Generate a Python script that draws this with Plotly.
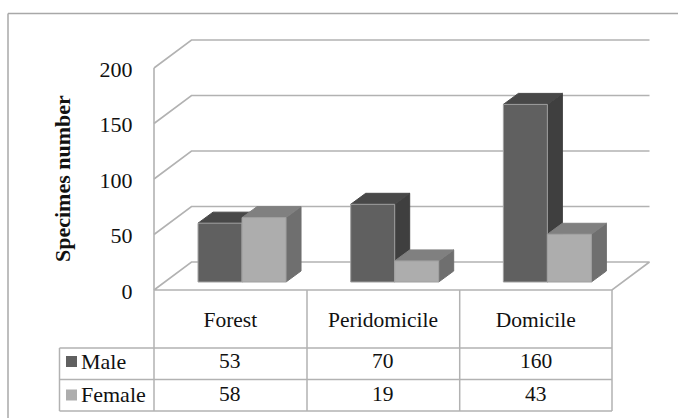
import plotly.graph_objects as go

categories = ["Forest", "Peridomicile", "Domicile"]
male = [53, 70, 160]
female = [58, 19, 43]
y_ticks = [0, 50, 100, 150, 200]
series_names = ["Male", "Female"]

W, H = 678, 418
X0, X1 = 154.0, 612.0      # front floor edge, px
Y0, Y200 = 290.0, 68.0     # front wall, px
SX = (X1 - X0) / 3
SY = (Y0 - Y200) / 200
FONT = "Liberation Serif"
GRID = "#b2b2b2"
EDGE = "#a0a0a0"


def dx(px):
    return px / SX


def dy(px):
    return px / SY


def xd(px):
    return (px - X0) / SX


def yd(px):
    return (Y0 - px) / SY


DEPTH_X, DEPTH_Y = dx(37.5), dy(28)
BAR_W = dx(44)
BAR_OFF = dx(11.7)
BAR_BASE = dy(8)
BD_X, BD_Y = dx(15), dy(11)

fig = go.Figure()


def poly(xs, ys, fill, line=None, width=1):
    fig.add_trace(go.Scatter(
        x=xs, y=ys, mode="lines", fill="toself", fillcolor=fill,
        line=dict(color=line or fill, width=width), hoverinfo="skip",
        showlegend=False))


# walls: gridlines run along the side wall then the back wall
for t in y_ticks:
    xs = [0, DEPTH_X, 3 + DEPTH_X]
    ys = [t, t + DEPTH_Y, t + DEPTH_Y]
    if t == 0:
        xs = xs + [3, 0]
        ys = ys + [0, 0]
    fig.add_trace(go.Scatter(x=xs, y=ys, mode="lines",
                             line=dict(color=GRID, width=1.6),
                             hoverinfo="skip", showlegend=False))
fig.add_trace(go.Scatter(x=[0, 0], y=[0, 200], mode="lines",
                         line=dict(color=GRID, width=1.6),
                         hoverinfo="skip", showlegend=False))


def bar(left, value, front, top, side):
    b0 = BAR_BASE
    t = BAR_BASE + value
    r = left + BAR_W
    poly([r, r + BD_X, r + BD_X, r, r],
         [b0, b0 + BD_Y, t + BD_Y, t, b0], side)
    poly([left, left + BD_X, r + BD_X, r, left],
         [t, t + BD_Y, t + BD_Y, t, t], top)
    poly([left, r, r, left, left], [b0, b0, t, t, b0], front, EDGE, 1)


for i in range(len(categories)):
    c = i + 0.5 + BAR_OFF
    bar(c - BAR_W, male[i], "#606060", "#484848", "#3f3f3f")
    bar(c, female[i], "#adadad", "#808080", "#6f6f6f")

# legend keys of the data table
key_x = xd(71.5)
fig.add_trace(go.Scatter(x=[key_x], y=[yd(361.5)], mode="markers", name=series_names[0],
                         marker=dict(symbol="square", size=11, color="#606060"),
                         hoverinfo="skip", showlegend=False))
fig.add_trace(go.Scatter(x=[key_x], y=[yd(395)], mode="markers", name=series_names[1],
                         marker=dict(symbol="square", size=11, color="#adadad"),
                         hoverinfo="skip", showlegend=False))

shapes = []


def seg(x0, y0, x1, y1, color=GRID, width=1.5):
    shapes.append(dict(type="line", xref="x", yref="y",
                       x0=xd(x0), y0=yd(y0), x1=xd(x1), y1=yd(y1),
                       line=dict(color=color, width=width)))


# data table rules
for py in (348, 379.5, 411):
    seg(59.5, py, X1, py)
seg(59.5, 348, 59.5, 411)
seg(X0, 290, X0, 411)
for px in (307, 459.7, X1):
    seg(px, 290, px, 411)
# chart frame
seg(8, 13.5, W, 13.5, "#a8a8a8", 1.5)
seg(8, 13.5, 8, H, "#a8a8a8", 1.5)

ann = []
for i in range(len(categories)):
    for vals, py in ((male, 361), (female, 394)):
        ann.append(dict(x=i + 0.5, y=yd(py), xref="x", yref="y", text=str(vals[i]),
                        showarrow=False, font=dict(family=FONT, size=21.5, color="#111111")))
for name, py in zip(series_names, (361, 394)):
    ann.append(dict(x=xd(79), y=yd(py), xref="x", yref="y", text=name, xanchor="left",
                    showarrow=False, font=dict(family=FONT, size=22, color="#111111")))
ann.append(dict(x=xd(62), y=yd(179), xref="x", yref="y", text="<b>Specimes number</b>",
                showarrow=False, textangle=-90,
                font=dict(family=FONT, size=22, color="#111111")))

fig.update_layout(
    width=W, height=H, margin=dict(l=0, r=0, t=0, b=0, pad=0),
    paper_bgcolor="white", plot_bgcolor="white", showlegend=False,
    shapes=shapes, annotations=ann,
    xaxis=dict(range=[xd(0), xd(W)], domain=[0, 1], anchor="free",
               position=(H - Y0) / H, showgrid=False, zeroline=False, showline=False,
               tickvals=[0.5, 1.5, 2.5], ticktext=categories, ticks="outside",
               ticklen=10, tickcolor="rgba(0,0,0,0)",
               tickfont=dict(family=FONT, size=21.5, color="#111111")),
    yaxis=dict(range=[yd(H), yd(0)], domain=[0, 1], anchor="free",
               position=X0 / W, showgrid=False, zeroline=False, showline=False,
               tickvals=y_ticks, ticks="outside", ticklen=17, ticklabelshift=1,
               tickcolor="rgba(0,0,0,0)",
               tickfont=dict(family=FONT, size=22, color="#111111")),
)
fig.write_html("out.html", config=dict(displayModeBar=False),
               post_script="document.body.style.margin='0';document.body.style.overflow='hidden';")
